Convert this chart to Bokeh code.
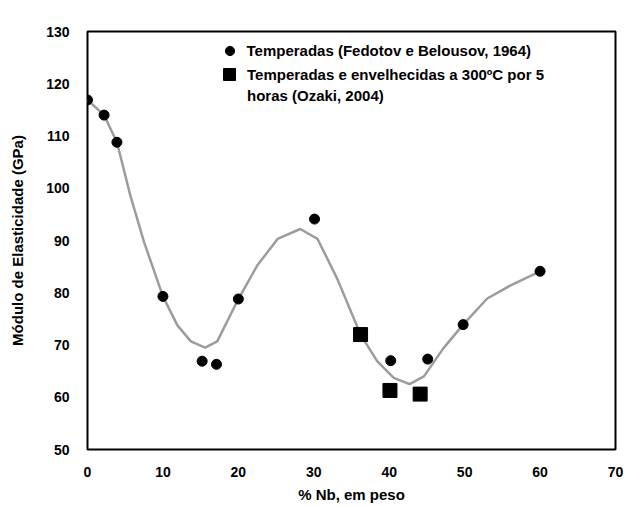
from bokeh.plotting import figure
from bokeh.models import Range1d, FixedTicker, Legend, LegendItem, Title
from bokeh.embed import file_html
from bokeh.resources import INLINE

# Data
fedotov_nb = [0.0, 2.2, 3.9, 10.0, 15.2, 17.1, 20.0, 30.1, 40.2, 45.1, 49.8, 60.0]
fedotov_e = [116.9, 114.0, 108.8, 79.3, 66.9, 66.3, 78.8, 94.1, 67.0, 67.3, 73.9, 84.1]

ozaki_nb = [36.2, 40.1, 44.1]
ozaki_e = [72.0, 61.3, 60.6]

curve_nb = [0.0, 2.2, 3.9, 5.7, 7.5, 10.0, 11.9, 13.7, 15.6, 17.2, 20.0, 22.5, 25.2,
            28.2, 30.5, 33.1, 36.2, 38.4, 40.6, 42.7, 44.6, 47.2, 49.8, 53.0, 56.1, 60.0]
curve_e = [116.9, 114.0, 108.8, 98.5, 89.7, 79.3, 73.8, 70.7, 69.5, 70.7, 78.8, 85.2, 90.3,
           92.2, 90.3, 82.7, 72.0, 66.9, 63.7, 62.5, 64.0, 69.4, 73.9, 78.9, 81.4, 84.1]

x_ticks = [0, 10, 20, 30, 40, 50, 60, 70]
y_ticks = [50, 60, 70, 80, 90, 100, 110, 120, 130]

x_title = "% Nb, em peso"
y_title = "Módulo de Elasticidade (GPa)"
label_1 = "Temperadas (Fedotov e Belousov, 1964)"
label_2a = "Temperadas e envelhecidas a 300ºC por 5"
label_2b = "horas (Ozaki, 2004)"

FONT = "Liberation Sans"

p = figure(width=627, height=506, output_backend="svg", toolbar_location=None,
           x_range=Range1d(0, 70), y_range=Range1d(50, 130),
           min_border_left=87, min_border_right=12, min_border_top=31, min_border_bottom=54)

p.xgrid.grid_line_color = None
p.ygrid.grid_line_color = None
p.outline_line_color = "black"
p.outline_line_width = 2
p.background_fill_color = "white"
p.border_fill_color = "white"

for ax in (p.xaxis[0], p.yaxis[0]):
    ax.axis_line_color = None
    ax.major_tick_line_color = None
    ax.minor_tick_line_color = None
    ax.major_label_text_font = FONT
    ax.major_label_text_font_style = "bold"
    ax.major_label_text_font_size = "14px"
    ax.major_label_text_color = "black"
    ax.axis_label_text_font = FONT
    ax.axis_label_text_font_style = "bold"
    ax.axis_label_text_font_size = "15px"
    ax.axis_label_text_color = "black"

p.xaxis.ticker = FixedTicker(ticks=x_ticks)
p.yaxis.ticker = FixedTicker(ticks=y_ticks)
p.yaxis.axis_label = y_title
p.xaxis.major_label_standoff = 11
p.yaxis.major_label_standoff = 12
p.yaxis.axis_label_standoff = 17

# x-axis title below the axis, slightly left of centre as in the reference
p.add_layout(Title(text=x_title, align="center", offset=-18, standoff=8,
                   text_font=FONT, text_font_style="bold", text_font_size="15px",
                   text_color="black"), "below")

curve = p.line(curve_nb, curve_e, line_color="#9c9c9c", line_width=2.5)
r_circ = p.scatter(fedotov_nb, fedotov_e, marker="circle", size=10,
                   fill_color="black", line_color="black")
r_sq = p.scatter(ozaki_nb, ozaki_e, marker="square", size=14,
                 fill_color="black", line_color="black")
r_blank = p.scatter([], [], marker="square", size=1, fill_alpha=0, line_alpha=0)


def add_legend(item, loc, gw, gh, standoff):
    lg = Legend(items=[item], location=loc, glyph_width=gw, glyph_height=gh,
                label_standoff=standoff)
    lg.border_line_color = None
    lg.background_fill_alpha = 0
    lg.padding = 0
    lg.margin = 0
    lg.spacing = 0
    lg.label_text_font = FONT
    lg.label_text_font_style = "bold"
    lg.label_text_font_size = "15px"
    lg.label_text_color = "black"
    p.add_layout(lg, "center")


add_legend(LegendItem(label=label_1, renderers=[r_circ]), (130.5, 387.5), 23, 23, 6)
add_legend(LegendItem(label=label_2a, renderers=[r_sq]), (127, 360), 30, 30, 3)
add_legend(LegendItem(label=label_2b, renderers=[r_blank]), (127, 344), 30, 20, 3)

open("out.html", "w").write(file_html(p, INLINE))
